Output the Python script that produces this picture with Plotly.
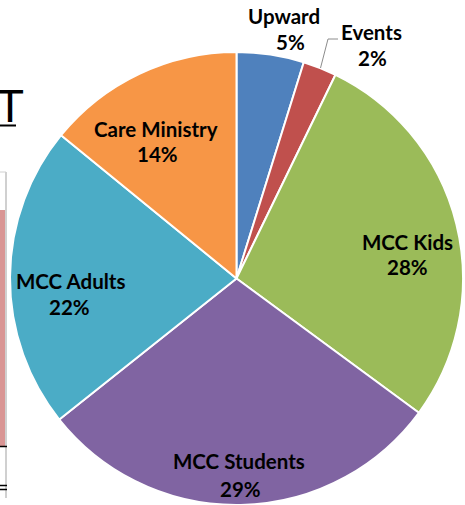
import plotly.graph_objects as go

# ---- data ----
labels = ["Upward", "Events", "MCC Kids", "MCC Students", "MCC Adults", "Care Ministry"]
values = [4.8, 2.4, 27.9, 29.2, 21.6, 14.1]
colors = ["#4F81BD", "#C0504D", "#9BBB59", "#8064A2", "#4BACC6", "#F79646"]

W, H = 465, 505


def px(x):
    return x / W


def py(y):
    return 1 - y / H


# label layout (pixel positions of name line and percent line)
name_pos = [(284, 16), (371, 32), (407, 242), (239, 461), (70, 281), (156, 129)]
pct_pos = [(290, 42), (372, 58), (407, 267), (240, 489), (69, 307), (157, 154)]

total = sum(values)

fig = go.Figure(
    go.Pie(
        labels=labels,
        values=values,
        sort=False,
        direction="clockwise",
        rotation=0,
        marker=dict(colors=colors, line=dict(color="white", width=2)),
        textinfo="none",
        hoverinfo="label+percent",
        showlegend=False,
        domain=dict(x=[px(10), px(463)], y=[0, 453 / H]),
    )
)

font = dict(family="Lato, Carlito, sans-serif", size=20.5, color="black", weight="bold")
annotations = []
for lab, v, (nx, ny), (qx, qy) in zip(labels, values, name_pos, pct_pos):
    annotations.append(dict(x=px(nx), y=py(ny), xref="paper", yref="paper",
                            text=lab, showarrow=False, font=font,
                            xanchor="center", yanchor="middle"))
    annotations.append(dict(x=px(qx), y=py(qy), xref="paper", yref="paper",
                            text=f"{round(v / total * 100)}%", showarrow=False, font=font,
                            xanchor="center", yanchor="middle"))

# slide fragment "T" on the left
annotations.append(dict(x=px(10), y=py(106), xref="paper", yref="paper", text="T",
                        showarrow=False, xanchor="center", yanchor="middle",
                        font=dict(family="Liberation Sans, Arial", size=46, color="black")))

shapes = [
    # leader line for Events
    dict(type="path", xref="paper", yref="paper",
         path=f"M {px(320.5)} {py(68)} L {px(328)} {py(39)} L {px(338)} {py(39)}",
         line=dict(color="#8C8C8C", width=1)),
    # underline of the T
    dict(type="line", xref="paper", yref="paper", x0=0, x1=px(16), y0=py(125.5), y1=py(125.5),
         line=dict(color="black", width=2)),
    # slide fragments at left
    dict(type="rect", xref="paper", yref="paper", x0=0, x1=px(7), y0=py(446), y1=py(210),
         fillcolor="#D99594", line=dict(width=0)),
    dict(type="line", xref="paper", yref="paper", x0=px(6), x1=px(6), y0=py(172), y1=py(498),
         line=dict(color="#D0D0D0", width=2)),
    dict(type="line", xref="paper", yref="paper", x0=0, x1=px(6), y0=py(172), y1=py(172),
         line=dict(color="#D0D0D0", width=1)),
    dict(type="line", xref="paper", yref="paper", x0=0, x1=px(7), y0=py(446.5), y1=py(446.5),
         line=dict(color="black", width=1.5)),
    dict(type="line", xref="paper", yref="paper", x0=0, x1=px(7), y0=py(485.5), y1=py(485.5),
         line=dict(color="black", width=1.5)),
    dict(type="line", xref="paper", yref="paper", x0=0, x1=px(7), y0=py(489.5), y1=py(489.5),
         line=dict(color="black", width=1.5)),
]

fig.update_layout(
    width=W, height=H,
    margin=dict(l=0, r=0, t=0, b=0),
    paper_bgcolor="white",
    plot_bgcolor="white",
    annotations=annotations,
    shapes=shapes,
)

fig.write_html("out.html", config={"displayModeBar": False},
               post_script="document.body.style.margin='0';document.body.style.overflow='hidden';")
